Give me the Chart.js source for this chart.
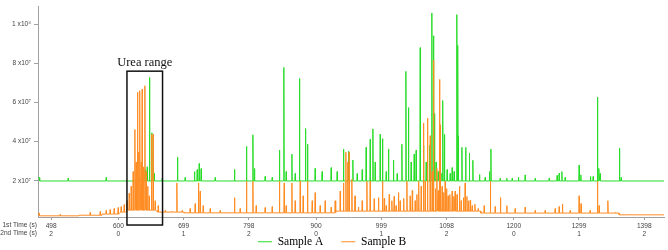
<!DOCTYPE html>
<html>
<head>
<meta charset="utf-8">
<script src="https://cdn.jsdelivr.net/npm/chart.js@4.4.1/dist/chart.umd.min.js"></script>
<style>
body{margin:0;background:#fff;}
#wrap{width:668px;height:250px;}
</style>
</head>
<body>
<div id="wrap"><canvas id="chromChart" width="668" height="250"></canvas></div>
<script>
// tick labels
const xTickValues=[498,600,699,798,900,999,1098,1200,1299,1398];
const xTickLabels2=["2","0","1","2","0","1","2","0","1","2"];
const yTickValues=[2e7,4e7,6e7,8e7,1e8];
const yTickLabels=["2 x10\u2077","4 x10\u2077","6 x10\u2077","8 x10\u2077","1 x10\u2078"];

// urea range annotation (1st time, s) and box height
const ureaRange=[613,667];
const ureaBox=[-2.6e6,7.6e7];

// Sample A baseline steps and peaks
const baseTimesA=[478,480.5];
const baseLevelsA=[2.16e7,1.99e7];
const peakTimesA=[523.8,581.5,631.5,636,640.6,643.7,647.2,650.8,654.3,666.4,689.7,701.3,715.5,719.6,722.6,725.6,746.9,776.2,794.4,804.1,806.5,822.7,833.4,844.4,851.1,854.6,863.3,868.3,874.8,883.9,887,898.6,909.2,922.9,932,941.6,949.2,955.8,962.4,970,976,982.1,986.2,989.7,997.3,1000.8,1006.4,1009.9,1017.4,1023.1,1030.2,1036.3,1040.2,1044.3,1048.9,1051.9,1058,1063,1067.1,1072.1,1075.7,1078.2,1079.7,1082.2,1085.3,1090.9,1092.4,1094.8,1098.9,1103.5,1106.5,1109.5,1113.6,1115.2,1116.1,1121.3,1127,1132.6,1137.9,1148,1156.6,1163.1,1165.3,1179.4,1189.5,1197.6,1207.1,1217.3,1232.5,1253.7,1265.8,1268.9,1273,1278,1299.2,1301.8,1316.4,1320.5,1327,1329.1,1331.1,1360.4,1363];
const peakValuesA=[2.14e7,2.17e7,2.17e7,2.37e7,2.57e7,2.71e7,7.28e7,4.45e7,2.37e7,2.12e7,3.21e7,2.17e7,2.47e7,2.57e7,2.88e7,2.62e7,2.17e7,2.58e7,3.76e7,4.35e7,2.63e7,2.22e7,2.17e7,3.57e7,7.79e7,2.47e7,3.36e7,2.37e7,7.23e7,4.67e7,3.87e7,2.63e7,2.47e7,2.67e7,2.47e7,3.62e7,3.51e7,3.06e7,2.37e7,2.57e7,3.71e7,4.12e7,4.65e7,2.96e7,4.37e7,4.15e7,2.47e7,3.62e7,3.06e7,2.37e7,3.87e7,7.59e7,5.74e7,2.96e7,3.37e7,3.56e7,8.8e7,3.81e7,2.96e7,3.81e7,10.57e7,9.41e7,5.44e7,2.96e7,2.47e7,2.38e7,6.1e7,4.37e7,2.57e7,2.37e7,2.67e7,2.47e7,10.49e7,8.92e7,4.3e7,3.71e7,3.71e7,3.42e7,3.05e7,2.32e7,2.17e7,2.47e7,3.62e7,2.12e7,2.13e7,2.12e7,2.18e7,2.3e7,2.12e7,2.12e7,2.27e7,2.38e7,2.47e7,2.17e7,2.8e7,2.3e7,2.22e7,2.22e7,6.27e7,2.63e7,2.37e7,3.67e7,2.17e7];

// Sample B baseline steps and peaks
const baseTimesB=[478,480,540,575,600,612,660,700,930,1150,1360];
const baseLevelsB=[0.34e7,0.21e7,0.24e7,0.3e7,0.4e7,0.5e7,0.4e7,0.36e7,0.45e7,0.35e7,0.26e7];
const peakTimesB=[511.7,557.2,572.4,581.5,587.5,593.6,599.7,604.2,608.8,613.3,616.4,619.4,622.4,625,627,629,630.8,632.6,634.6,636.1,638.1,640.2,642.2,644.4,646.7,650.2,652.8,655.8,660.4,671,681.6,688.7,696.8,708.9,716.5,721.5,724.1,728.7,739.3,754.5,776.2,784.8,794.4,804.1,809.1,822.7,833.4,844.4,851.6,854.6,863.3,868.3,875.9,880.4,887,894.1,898.6,906.2,913.8,922.9,928.9,936.6,941.6,945.2,947.9,950.2,954.3,959.1,964.3,970,977.1,982.1,988.2,994.7,1000.8,1003.5,1006.4,1011,1015,1018.5,1021.5,1025,1027.6,1033,1037.8,1042.8,1046,1050.4,1053,1055.7,1059.5,1063,1065.6,1069.1,1073.2,1076.2,1078.2,1081,1083.3,1085.5,1087.3,1088.3,1091.3,1093.5,1095.9,1098,1100.4,1103,1106.5,1109,1111.1,1114,1117.6,1120.2,1123.7,1126.2,1129,1131.3,1134,1136.9,1141,1146,1155.1,1164.5,1171.8,1179.8,1189.5,1202.1,1217.3,1232.5,1247.6,1262.8,1268.9,1273.9,1285.6,1299.2,1302.2,1315.9,1327,1329.6,1342.8,1353.9,1376.6];
const peakValuesB=[0.28e7,0.38e7,0.43e7,0.48e7,0.53e7,0.58e7,0.63e7,0.68e7,0.78e7,0.98e7,1.37e7,1.72e7,2.47e7,4.62e7,2.96e7,6.52e7,3.46e7,6.6e7,2.96e7,6.69e7,2.71e7,6.85e7,2.47e7,1.72e7,1.23e7,4.37e7,4.37e7,0.98e7,0.73e7,0.48e7,0.43e7,1.89e7,0.48e7,0.58e7,0.83e7,1.89e7,1.47e7,0.73e7,0.58e7,0.48e7,1.14e7,0.58e7,1.97e7,1.97e7,0.73e7,0.63e7,0.68e7,1.97e7,1.89e7,0.73e7,1.89e7,0.98e7,1.97e7,1.23e7,1.97e7,0.98e7,1.39e7,0.73e7,0.98e7,0.65e7,0.98e7,1.47e7,1.89e7,3.46e7,2.96e7,3.46e7,2.07e7,1.23e7,0.65e7,0.98e7,1.97e7,1.97e7,1.08e7,1.14e7,1.97e7,1.1e7,0.73e7,1.3e7,0.98e7,1.2e7,0.73e7,1.4e7,0.98e7,1.1e7,1.97e7,1.23e7,1.5e7,0.98e7,1.3e7,1.97e7,1.72e7,4.95e7,1.97e7,5.2e7,4.3e7,2.47e7,8.17e7,1.6e7,2.63e7,1.5e7,7.18e7,4.86e7,1.72e7,1.4e7,1.97e7,1.6e7,1.23e7,1.3e7,1.47e7,1.2e7,1.47e7,1.3e7,1.72e7,0.98e7,1.14e7,1.89e7,1.2e7,0.98e7,1.0e7,0.73e7,0.8e7,0.58e7,0.73e7,1.97e7,0.68e7,1.14e7,0.73e7,0.58e7,0.65e7,0.48e7,0.48e7,0.58e7,0.68e7,0.81e7,0.48e7,1.23e7,0.83e7,0.48e7,1.97e7,0.73e7,0.98e7,0.38e7,0.28e7];

const X_MIN=478, X_MAX=1428;

function buildTrace(baseTimes,baseLevels,peakTimes,peakValues){
let pts=[];
for(let i=0;i<baseTimes.length;i++){
let end=(i+1<baseTimes.length)?baseTimes[i+1]-0.01:X_MAX;
pts.push({x:baseTimes[i],y:baseLevels[i]});
pts.push({x:end,y:baseLevels[i]});
}
peakTimes.forEach((t,i)=>{
let lvl=baseLevels[0];
for(let k=0;k<baseTimes.length;k++){ if(baseTimes[k]<=t) lvl=baseLevels[k]; }
pts.push({x:t-0.5,y:lvl},{x:t,y:peakValues[i]},{x:t+0.5,y:lvl});
});
pts.sort((a,b)=>a.x-b.x);
return pts;
}

const tickFont={family:"Liberation Sans",size:6.6};
const axisGrey="#a0a0a0";

const ureaPlugin={
id:"ureaBox",
afterLayout(chart){
// legend sits partly over the bottom axis area, with wide item gaps
chart.legend.top=218;
},
afterDatasetsDraw(chart){
const ctx=chart.ctx, xs=chart.scales.x, ys=chart.scales.y;
const x1=xs.getPixelForValue(ureaRange[0]), x2=xs.getPixelForValue(ureaRange[1]);
const y1=ys.getPixelForValue(ureaBox[1]), y2=ys.getPixelForValue(ureaBox[0]);
ctx.save();
ctx.strokeStyle="#111";
ctx.lineWidth=1.5;
ctx.strokeRect(x1,y1,x2-x1,y2-y1);
ctx.fillStyle="#111";
ctx.font="12.5px 'Liberation Serif'";
ctx.textAlign="center";
ctx.textBaseline="alphabetic";
ctx.fillText("Urea range",(x1+x2)/2,y1-5);
// row titles for the two time axes
ctx.font="6.6px 'Liberation Sans'";
ctx.fillStyle="#444";
ctx.textAlign="right";
ctx.textBaseline="middle";
ctx.fillText("1st Time (s)",37,225);
ctx.fillText("2nd Time (s)",37,233);
ctx.restore();
}
};

new Chart(document.getElementById("chromChart"),{
type:"line",
data:{
datasets:[{
label:"Sample A",
data:buildTrace(baseTimesA,baseLevelsA,peakTimesA,peakValuesA),
borderColor:"rgb(40,220,40)",
backgroundColor:"rgb(40,220,40)",
borderWidth:1,
pointRadius:0,
tension:0,
order:1
},{
label:"Sample B",
data:buildTrace(baseTimesB,baseLevelsB,peakTimesB,peakValuesB),
borderColor:"rgb(255,140,35)",
backgroundColor:"rgb(255,180,120)",
borderWidth:1,
pointRadius:0,
tension:0,
order:0
}]
},
options:{
responsive:false,
animation:false,
devicePixelRatio:1,
parsing:false,
layout:{padding:{left:0,right:4,top:0,bottom:0}},
plugins:{
tooltip:{enabled:false},
legend:{
position:"bottom",
maxHeight:13,
labels:{
font:{family:"Liberation Serif",size:11.5},
color:"#222",
boxWidth:14,
boxHeight:1,
padding:18,
sort:(a,b)=>a.datasetIndex-b.datasetIndex,
generateLabels(chart){
return chart.data.datasets.map((ds,i)=>({
text:ds.label,
fillStyle:ds.borderColor,
strokeStyle:ds.borderColor,
lineWidth:0,
datasetIndex:i,
hidden:false
}));
}
}
}
},
scales:{
x:{
type:"linear",
min:X_MIN,
max:X_MAX,
afterBuildTicks(scale){ scale.ticks=xTickValues.map(v=>({value:v})); },
afterFit(scale){ scale.height=20; },
border:{display:true,color:axisGrey,width:1},
grid:{display:true,drawOnChartArea:false,drawTicks:true,tickLength:3,color:axisGrey},
ticks:{
font:tickFont,
color:"#444",
padding:2,
maxRotation:0,
autoSkip:false,
callback(value){
let i=xTickValues.indexOf(value);
return [String(value),xTickLabels2[i]];
}
}
},
y:{
min:1.5e6,
max:1.088e8,
afterBuildTicks(scale){ scale.ticks=yTickValues.map(v=>({value:v})); },
afterFit(scale){ scale.width=38; },
border:{display:true,color:axisGrey,width:1},
grid:{display:true,drawOnChartArea:false,drawTicks:true,tickLength:4,color:axisGrey},
ticks:{
font:tickFont,
color:"#444",
padding:3,
callback(value){
let i=yTickValues.indexOf(value);
return yTickLabels[i];
}
}
}
}
},
plugins:[ureaPlugin]
});
</script>
</body>
</html>
